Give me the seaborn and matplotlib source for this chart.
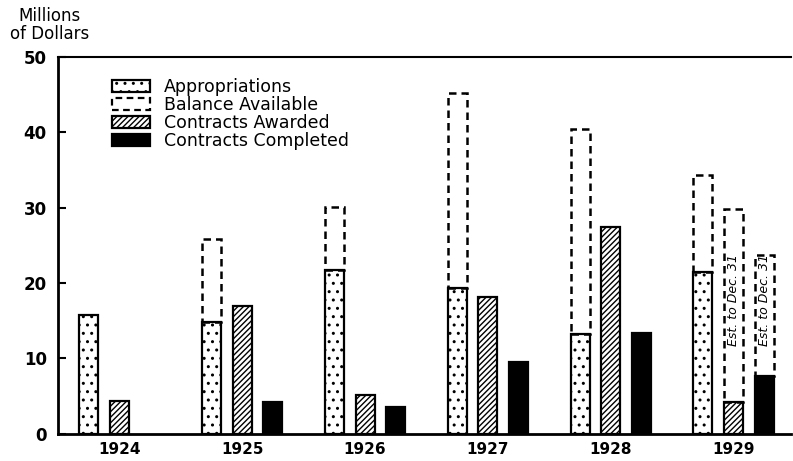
# bar chart: appropriations vs contracts, 1924-1929
import numpy as np
import pandas as pd
import seaborn as sns
import matplotlib.pyplot as plt
from matplotlib.patches import Patch

# data (millions of dollars)
years = ["1924", "1925", "1926", "1927", "1928", "1929"]
appropriations = [15.8, 14.8, 21.7, 19.3, 13.2, 21.5]
balance_total = [np.nan, 25.8, 30.1, 45.2, 40.5, 34.3]
contracts_awarded = [4.4, 17.0, 5.2, 18.1, 27.5, 4.2]
contracts_completed = [np.nan, 4.2, 3.5, 9.5, 13.4, 7.7]
# 1929 estimates to Dec. 31
est_awarded_1929 = 29.9
est_completed_1929 = 23.7

series = ["Appropriations", "Contracts Awarded", "Contracts Completed"]

df = pd.DataFrame({
    "year": years * 3,
    "series": [s for s in series for _ in years],
    "value": appropriations + contracts_awarded + contracts_completed,
})

sns.set_theme(style="ticks")
plt.rcParams["font.family"] = ["DejaVu Sans"]
plt.rcParams["hatch.linewidth"] = 1.0
plt.rcParams["text.color"] = "black"
plt.rcParams["xtick.color"] = "black"
plt.rcParams["ytick.color"] = "black"

fig = plt.figure(figsize=(7.93, 4.61), dpi=100)
ax = fig.add_axes([0.073, 0.059, 0.925, 0.817])

sns.barplot(data=df, x="year", y="value", hue="series", hue_order=series,
            palette={"Appropriations": "white", "Contracts Awarded": "white",
                     "Contracts Completed": "black"},
            width=0.75, gap=0.38, saturation=1, errorbar=None,
            edgecolor="black", linewidth=1.6, legend=False, ax=ax)

for cont, h in zip(ax.containers, ["..", "//////", None]):
    for p in cont:
        if h:
            p.set_hatch(h)

bw = 0.75 / 3 * (1 - 0.38)
pos = np.arange(len(years))

# balance available, dashed box on top of appropriations
appr = np.array(appropriations)
tot = np.array(balance_total)
ok = ~np.isnan(tot)
ax.bar(pos[ok] - 0.25, (tot - appr)[ok], bottom=appr[ok], width=bw,
       fill=False, edgecolor="black", linestyle=(0, (3, 2)), linewidth=1.8)

# estimated extensions for 1929
ax.bar([5, 5.25], [est_awarded_1929 - contracts_awarded[5],
                   est_completed_1929 - contracts_completed[5]],
       bottom=[contracts_awarded[5], contracts_completed[5]], width=bw,
       fill=False, edgecolor="black", linestyle=(0, (3, 2)), linewidth=1.8)
for xx in [5, 5.25]:
    ax.text(xx, 17.8, "Est. to Dec. 31", rotation=90, style="italic",
            ha="center", va="center", fontsize=9)

ax.set_xlim(-0.5, 5.47)
ax.set_ylim(0, 50)
ax.set_yticks(range(0, 51, 10))
ax.set_xlabel("")
ax.set_ylabel("")
ax.tick_params(axis="x", length=0, pad=6, labelsize=11)
ax.tick_params(axis="y", direction="in", length=6, width=1.5, labelsize=12, pad=8)
for lab in ax.get_xticklabels() + ax.get_yticklabels():
    lab.set_fontweight("bold")
ax.spines["right"].set_visible(False)
for side in ["left", "bottom"]:
    ax.spines[side].set_linewidth(2)
    ax.spines[side].set_color("black")
ax.spines["top"].set_linewidth(1.5)
ax.spines["top"].set_color("black")

handles = [
    Patch(facecolor="white", edgecolor="black", hatch="..", linewidth=1.6, label="Appropriations"),
    Patch(facecolor="white", edgecolor="black", linestyle=(0, (3, 2)), linewidth=1.6, label="Balance Available"),
    Patch(facecolor="white", edgecolor="black", hatch="//////", linewidth=1.6, label="Contracts Awarded"),
    Patch(facecolor="black", edgecolor="black", linewidth=1.6, label="Contracts Completed"),
]
ax.legend(handles=handles, loc="upper left", bbox_to_anchor=(0.052, 0.985),
          frameon=False, fontsize=12.5, handlelength=2.2, handleheight=0.7,
          labelspacing=0.0, handletextpad=0.8)

fig.text(0.062, 0.985, "Millions\nof Dollars", ha="center", va="top",
         fontsize=12, linespacing=1.0)

fig.savefig("out.png", dpi=100)
